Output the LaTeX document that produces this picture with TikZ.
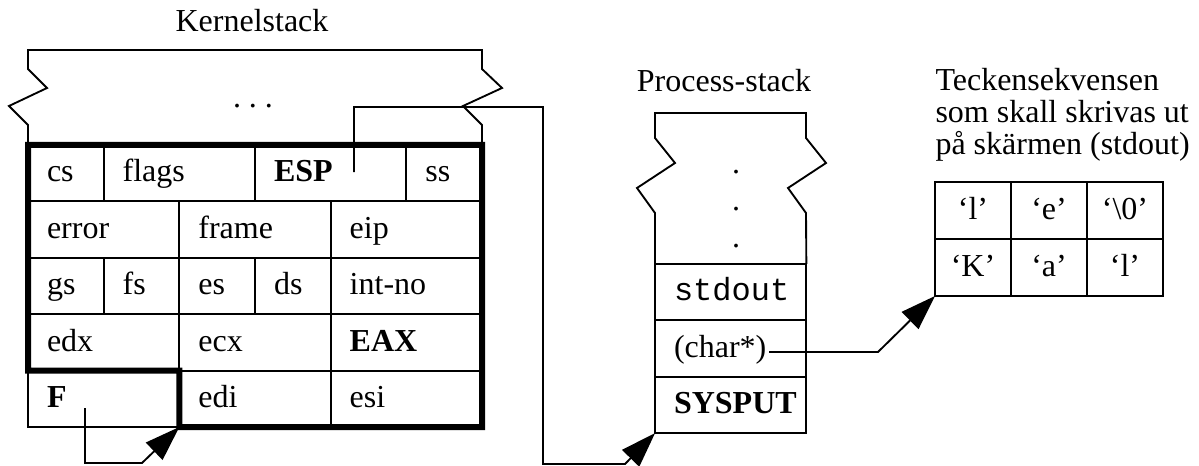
\documentclass[tikz,border=0pt]{standalone}
\usepackage{fontspec}
\setmainfont{Liberation Serif}
\setmonofont{Liberation Mono}
\usetikzlibrary{arrows.meta}
\usetikzlibrary{positioning}

\begin{document}
\begin{tikzpicture}[x=0.4pt, y=-0.4pt,
  font=\fontsize{12.8}{12.8}\selectfont,
  line/.style={line width=0.75pt},
  border/.style={line width=2.4pt},
  ptr/.style={line width=0.75pt, -{Triangle[length=14pt,width=9.5pt]}},
  cell/.style={draw, line width=0.75pt, anchor=north west, outer sep=0pt,
    inner xsep=7.6pt, inner ysep=0pt, minimum height=22.56pt,
    text height=0.85em, text depth=0.15em, align=left,
    text width=#1*30.27pt-15.2pt},
  char/.style={draw, line width=0.75pt, anchor=north west, outer sep=0pt,
    inner sep=0pt, minimum width=30.4pt, minimum height=22.8pt,
    text height=0.85em, text depth=0.15em}]
\useasboundingbox (0,0) rectangle (1199,466);

\node[cell=1] (k-cs) at (28,145) {cs};
\node[cell=2, right=0pt of k-cs] (k-flags) {flags};
\node[cell=2, right=0pt of k-flags] (k-esp) {\textbf{ESP}};
\node[cell=1, right=0pt of k-esp] (k-ss) {ss};
\node[cell=2, below right=0pt and 0pt of k-cs.south west] (k-error) {error};
\node[cell=2, right=0pt of k-error] (k-frame) {frame};
\node[cell=2, right=0pt of k-frame] (k-eip) {eip};
\node[cell=1, below right=0pt and 0pt of k-error.south west] (k-gs) {gs};
\node[cell=1, right=0pt of k-gs] (k-fs) {fs};
\node[cell=1, right=0pt of k-fs] (k-es) {es};
\node[cell=1, right=0pt of k-es] (k-ds) {ds};
\node[cell=2, right=0pt of k-ds] (k-intno) {int-no};
\node[cell=2, below right=0pt and 0pt of k-gs.south west] (k-edx) {edx};
\node[cell=2, right=0pt of k-edx] (k-ecx) {ecx};
\node[cell=2, right=0pt of k-ecx] (k-eax) {\textbf{EAX}};
\node[cell=2, below right=0pt and 0pt of k-edx.south west] (k-f) {\textbf{F}};
\node[cell=2, right=0pt of k-f] (k-edi) {edi};
\node[cell=2, right=0pt of k-edi] (k-esi) {esi};

\draw[border]
     (k-cs.north west)
  -- (k-ss.north east)
  -- (k-esi.south east)
  -- (k-edi.south west)
  -- (k-edi.north west)
  -- (k-edx.south west)
  -- cycle;
\draw[line]
     (k-cs.north west)
  -- ++(0,-20) -- ++(-19,-19) -- ++(38,-18) -- ++(-19,-19) -- ++(0,-19)
  -- ++(454,0)
  -- ++(0,19) -- ++(20,19) -- ++(-39,18) -- ++(19,19)
  -- (k-ss.north east);
\node[anchor=base] (k-dots) at (253,108) {.\ .\ .};
\node[anchor=base] (k-title) at (252,32) {Kernelstack};

\node[cell=2] (p-stdout) at (655,264) {\texttt{stdout}};
\node[cell=2, below=0pt of p-stdout] (p-char) {(char*)};
\node[cell=2, below=0pt of p-char] (p-sysput) {\textbf{SYSPUT}};
\draw[line]
     (p-stdout.north west)
  -- ++(0,-51) -- ++(-18,-25) -- ++(38,-25) -- ++(-20,-25) -- ++(0,-25)
  -- ++(151,0)
  -- ++(0,25) -- ++(20,25) -- ++(-38,25) -- ++(18,25)
  -- (p-stdout.north east);
\node[align=center, font=\fontsize{12.8}{14.8}\selectfont] (p-dots) at (736,209) {.\\.\\.};
\node[anchor=base] (p-title) at (724,92) {Process-stack};

\node[char] (s-l1) at (935,182) {`l'};
\node[char, right=0pt of s-l1] (s-e) {`e'};
\node[char, right=0pt of s-e] (s-nul) {`\textbackslash0'};
\node[char, below=0pt of s-l1] (s-K) {`K'};
\node[char, right=0pt of s-K] (s-a) {`a'};
\node[char, right=0pt of s-a] (s-l2) {`l'};
\node[align=left, inner sep=0pt, above right=8pt and 0pt of s-l1.north west] (s-title)
  {Teckensekvensen\\som skall skrivas ut\\på skärmen (stdout)};

\coordinate (esp-ptr) at (354,172);
\coordinate (f-ptr) at (85,408);
\coordinate (char-ptr) at (769,352);
\draw[ptr] (esp-ptr) |- (543,107) |- (625,464) -- (p-sysput.south west);
\draw[ptr] (f-ptr) |- (142,463) -- (k-edi.south west);
\draw[ptr] (char-ptr) -- (878,352) -- (s-K.south west);
\end{tikzpicture}
\end{document}
